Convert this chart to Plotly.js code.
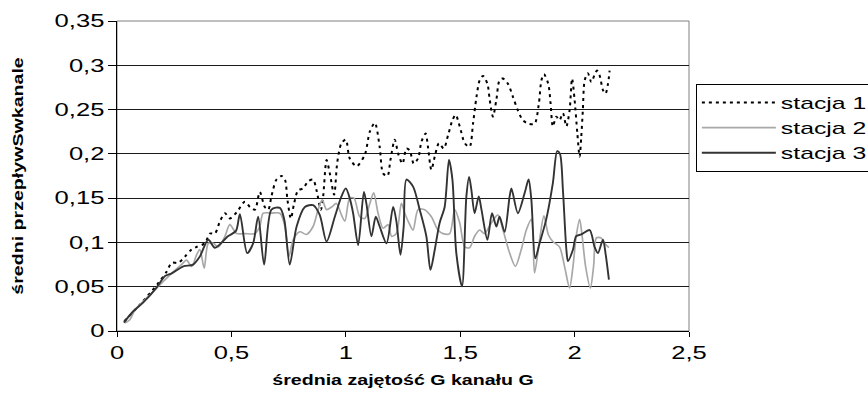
<!DOCTYPE html>
<html>
<head>
<meta charset="utf-8">
<script src="https://cdn.plot.ly/plotly-3.0.1.min.js"></script>
<style>html,body{margin:0;padding:0;background:#fff;}</style>
</head>
<body>
<div id="chart" style="width:868px;height:401px;"></div>
<script>
const seriesNames = ["stacja 1", "stacja 2", "stacja 3"];
const xTitle = "średnia zajętość G kanału G";
const yTitle = "średni przepływSwkanale";

const x1 = [0.032,0.108,0.18,0.217,0.239,0.268,0.297,0.326,0.348,0.384,0.406,0.428,0.45,0.472,0.493,0.523,0.559,0.581,0.603,0.624,0.646,0.661,0.675,0.697,0.719,0.734,0.745,0.76,0.774,0.792,0.814,0.835,0.857,0.872,0.891,0.901,0.916,0.93,0.949,0.963,0.981,1.0,1.017,1.047,1.083,1.105,1.127,1.148,1.163,1.182,1.195,1.214,1.229,1.248,1.265,1.279,1.297,1.316,1.331,1.349,1.359,1.374,1.389,1.407,1.428,1.447,1.466,1.48,1.498,1.52,1.541,1.556,1.571,1.585,1.6,1.619,1.629,1.643,1.658,1.672,1.687,1.709,1.731,1.752,1.774,1.799,1.825,1.843,1.855,1.866,1.885,1.895,1.905,1.92,1.934,1.949,1.964,1.978,1.989,2.0,2.012,2.022,2.029,2.036,2.044,2.058,2.073,2.087,2.098,2.109,2.124,2.135,2.146,2.153];
const y1 = [0.011,0.032,0.054,0.067,0.077,0.077,0.084,0.092,0.095,0.099,0.11,0.11,0.124,0.133,0.127,0.134,0.146,0.14,0.137,0.157,0.14,0.137,0.152,0.171,0.175,0.171,0.148,0.127,0.144,0.159,0.161,0.169,0.171,0.159,0.137,0.152,0.193,0.178,0.154,0.191,0.212,0.216,0.195,0.186,0.199,0.225,0.235,0.208,0.178,0.175,0.193,0.216,0.2,0.189,0.206,0.204,0.189,0.195,0.214,0.223,0.208,0.182,0.197,0.212,0.206,0.221,0.238,0.244,0.231,0.212,0.208,0.234,0.264,0.283,0.288,0.279,0.261,0.242,0.261,0.283,0.285,0.279,0.264,0.249,0.238,0.234,0.234,0.255,0.283,0.29,0.279,0.257,0.231,0.242,0.238,0.246,0.231,0.249,0.285,0.261,0.223,0.197,0.219,0.249,0.283,0.291,0.281,0.289,0.294,0.289,0.272,0.268,0.279,0.294];

const x2 = [0.035,0.057,0.079,0.137,0.195,0.239,0.282,0.304,0.326,0.348,0.362,0.381,0.399,0.421,0.443,0.472,0.493,0.523,0.559,0.603,0.624,0.639,0.675,0.712,0.734,0.751,0.77,0.799,0.828,0.857,0.879,0.897,0.916,0.938,0.959,0.981,0.996,1.017,1.036,1.061,1.083,1.105,1.122,1.141,1.163,1.185,1.2,1.221,1.243,1.258,1.276,1.294,1.316,1.345,1.374,1.403,1.425,1.454,1.476,1.498,1.52,1.541,1.563,1.585,1.607,1.636,1.665,1.687,1.716,1.741,1.767,1.789,1.811,1.825,1.847,1.866,1.885,1.905,1.934,1.956,1.978,1.993,2.007,2.022,2.033,2.048,2.069,2.083,2.095,2.116,2.131,2.15];
const y2 = [0.009,0.013,0.024,0.039,0.054,0.065,0.075,0.08,0.073,0.086,0.092,0.071,0.099,0.099,0.095,0.107,0.12,0.11,0.11,0.11,0.118,0.133,0.133,0.133,0.118,0.084,0.103,0.112,0.109,0.118,0.137,0.148,0.137,0.14,0.144,0.131,0.124,0.15,0.15,0.129,0.127,0.144,0.156,0.133,0.116,0.12,0.107,0.11,0.144,0.133,0.122,0.114,0.137,0.137,0.129,0.114,0.11,0.11,0.137,0.122,0.095,0.094,0.107,0.114,0.11,0.122,0.131,0.114,0.088,0.073,0.092,0.114,0.126,0.0655,0.103,0.13,0.109,0.101,0.095,0.073,0.0487,0.073,0.107,0.126,0.107,0.073,0.0487,0.073,0.105,0.105,0.099,0.094];

const x3 = [0.03,0.07,0.114,0.173,0.21,0.239,0.29,0.333,0.362,0.399,0.428,0.485,0.52,0.537,0.569,0.595,0.617,0.643,0.675,0.712,0.731,0.755,0.785,0.821,0.857,0.886,0.916,0.952,0.981,1.0,1.017,1.032,1.054,1.079,1.09,1.112,1.131,1.148,1.178,1.207,1.221,1.239,1.253,1.265,1.294,1.323,1.352,1.37,1.389,1.41,1.432,1.451,1.466,1.483,1.508,1.527,1.539,1.549,1.563,1.581,1.593,1.619,1.639,1.658,1.672,1.694,1.716,1.724,1.752,1.782,1.799,1.811,1.828,1.847,1.876,1.905,1.924,1.936,1.949,1.964,1.971,1.993,2.007,2.029,2.066,2.087,2.102,2.124,2.135,2.15];
const y3 = [0.0095,0.022,0.032,0.049,0.062,0.065,0.073,0.075,0.084,0.103,0.094,0.107,0.113,0.132,0.088,0.099,0.129,0.075,0.137,0.139,0.126,0.075,0.118,0.14,0.142,0.131,0.101,0.129,0.152,0.161,0.15,0.133,0.097,0.157,0.144,0.107,0.129,0.118,0.099,0.14,0.124,0.086,0.118,0.171,0.163,0.137,0.107,0.069,0.092,0.122,0.14,0.193,0.171,0.088,0.0505,0.152,0.174,0.159,0.133,0.152,0.137,0.103,0.133,0.118,0.129,0.112,0.152,0.161,0.133,0.156,0.171,0.148,0.082,0.099,0.126,0.167,0.203,0.2,0.159,0.092,0.079,0.092,0.107,0.109,0.114,0.095,0.088,0.103,0.088,0.058];

const FONT = "Liberation Sans, Arial, sans-serif";

const traces = [
  {x: x1, y: y1, name: seriesNames[0], mode: "lines", line: {color: "#000000", width: 2, dash: "3px,4px", shape: "spline", smoothing: 0.8}},
  {x: x2, y: y2, name: seriesNames[1], mode: "lines", line: {color: "#a8a8a8", width: 1.7, shape: "spline", smoothing: 0.8}},
  {x: x3, y: y3, name: seriesNames[2], mode: "lines", line: {color: "#333333", width: 1.9, shape: "spline", smoothing: 0.8}}
];

const layout = {
  width: 868, height: 401,
  margin: {l: 117, r: 179, t: 21, b: 70, pad: 0, autoexpand: false},
  paper_bgcolor: "#ffffff", plot_bgcolor: "#ffffff",
  separators: ", ",
  font: {family: FONT, size: 18, color: "#000"},
  showlegend: true,
  legend: {
    x: 1.012, y: 0.797, xanchor: "left", yanchor: "top",
    bordercolor: "#000", borderwidth: 1, bgcolor: "#fff",
    font: {family: FONT, size: 17, color: "#000"},
    itemwidth: 74, tracegroupgap: 0
  },
  xaxis: {
    range: [0, 2.5], dtick: 0.5, tick0: 0,
    showgrid: false, zeroline: false,
    showline: true, linecolor: "#000", linewidth: 1,
    ticks: "outside", ticklen: 5, tickcolor: "#000",
    tickfont: {family: FONT, size: 18},
    title: {text: xTitle, font: {family: FONT, size: 14, weight: "bold"}, standoff: 13},
    automargin: false
  },
  yaxis: {
    range: [0, 0.35], dtick: 0.05, tick0: 0,
    showgrid: true, gridcolor: "#1a1a1a", gridwidth: 1,
    zeroline: false,
    showline: true, linecolor: "#000", linewidth: 1,
    ticks: "outside", ticklen: 8, tickcolor: "#000",
    tickfont: {family: FONT, size: 18},
    title: {text: yTitle, font: {family: FONT, size: 14, weight: "bold"}, standoff: 42},
    automargin: false
  },
  shapes: [
    {type: "rect", xref: "paper", yref: "paper", x0: 0, x1: 1, y0: 0, y1: 1,
     line: {color: "#808080", width: 1}, layer: "below"}
  ]
};

function stretchText(nodes, factor) {
  nodes.forEach(function (n) {
    const len = n.getComputedTextLength();
    if (len > 0) {
      n.setAttribute("textLength", (len * factor).toFixed(1));
      n.setAttribute("lengthAdjust", "spacingAndGlyphs");
    }
  });
}

Plotly.newPlot("chart", traces, layout, {staticPlot: true, displayModeBar: false}).then(function (gd) {
  stretchText(gd.querySelectorAll(".xtick text, .ytick text"), 1.42);
  stretchText(gd.querySelectorAll(".legendtext"), 1.46);
  stretchText(gd.querySelectorAll(".xtitle, .ytitle"), 1.4);
  // legend box runs past the right edge of the picture, as in the reference
  gd.querySelectorAll(".legend [clip-path]").forEach(function (n) { n.removeAttribute("clip-path"); });
  gd.querySelectorAll(".legend rect.bg").forEach(function (r) { r.setAttribute("width", "220"); });
});
</script>
</body>
</html>
